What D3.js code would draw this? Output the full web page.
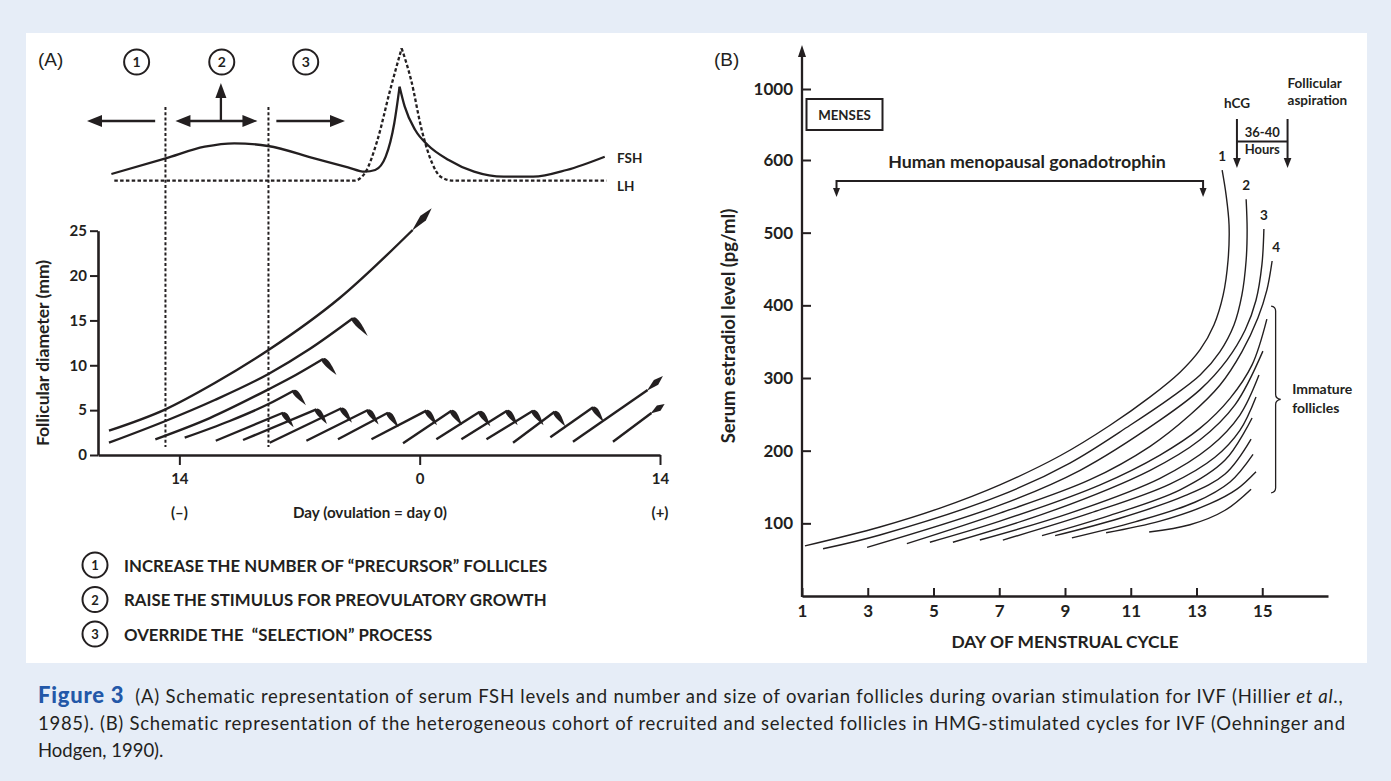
<!DOCTYPE html>
<html>
<head>
<meta charset="utf-8">
<script src="https://cdn.jsdelivr.net/npm/d3@7"></script>
<style>
  html, body { margin: 0; padding: 0; background: #e6edf7; }
  svg { display: block; }
  text { font-family: Lato, "Open Sans", sans-serif; fill: #231f20; white-space: pre; }
  .b { font-weight: 700; }
  .axA .domain, .axB .domain { stroke: #231f20; }
  .axA line, .axB line { stroke: #231f20; stroke-width: 2; }
  .axA text { font: 700 15px Lato, sans-serif; fill: #231f20; }
  .axB text { font: 700 17px Lato, sans-serif; fill: #231f20; }
  .cap { font-family: Lato, "Open Sans", sans-serif; font-size: 18.5px; fill: #333; }
</style>
</head>
<body>
<svg id="fig" width="1391" height="781"></svg>
<script>
// ---- Panel A: hormone levels, [day from ovulation, relative level]
const fshLevels = [[-17.96,1.6],[-14.8,3.17],[-12.52,4.33],[-10.8,4.67],[-8.84,4.4],[-6.14,3.17],[-4.18,2.27],
  [-3.2,1.83],[-2.59,2.0],[-1.98,3.33],[-1.48,6.67],[-1.17,10.33],[-0.87,8.33],[-0.26,6.0],[0.47,4.5],
  [1.69,3.0],[3.17,1.83],[4.89,1.33],[6.61,1.33],[8.56,2.0],[10.78,3.33]];
const lhLevels = [[-17.79,0.93],[-3.81,0.93],[-3.2,1.67],[-2.46,5.0],[-1.72,10.0],[-1.05,14.17],[-0.5,11.0],
  [0.12,6.0],[0.73,2.67],[1.22,1.33],[1.95,0.93],[10.89,0.93]];
const phaseBounds = [-14.81, -8.81];
const phaseDays = [-16.49, -11.53, -6.64];
const phaseNums = ["1", "2", "3"];

// ---- Panel A: follicles, [day, diameter mm]
const dominant = [[-18.10,2.71],[-14.81,5.09],[-11.94,8.02],[-8.81,11.70],[-4.66,17.50],[-0.41,25.08]];
const dominantTip = [0.70, 27.5];
const atreticCurves = [
  [[-18.10,1.37],[-14.81,3.79],[-11.94,6.13],[-8.81,9.03],[-6.41,11.81],[-3.89,15.24]],
  [[-15.40,1.75],[-12.23,4.12],[-8.81,7.32],[-7.22,8.92],[-5.63,10.70]],
  [[-13.69,1.93],[-11.07,3.79],[-8.81,5.68],[-7.34,7.17]]
];
// [startDay, startMm, endDay, endMm]
const atreticSmall = [
  [-11.88,1.59,-7.96,4.71],[-10.29,1.67,-6.02,5.09],[-8.74,1.37,-4.56,5.21],[-6.60,1.59,-3.01,5.02],
  [-4.76,1.75,-1.85,4.71],[-2.81,1.75,0.39,4.94],[-0.97,1.30,1.85,4.94],[0.97,1.75,3.50,4.83],
  [2.43,1.75,5.09,4.94],[3.89,1.75,6.60,4.94],[5.44,1.37,7.86,4.83],[7.61,1.97,10.10,5.32]
];
// [startDay, startMm, endDay, endMm, tipDay, tipMm]
const growingSmall = [[8.93,1.48,13.28,7.24,14.17,8.81],[11.26,1.48,13.50,4.68,14.27,5.68]];
const aYTicks = [0, 5, 10, 15, 20, 25];
const aXTicks = [-14, 0, 14];
const legendItems = ["INCREASE THE NUMBER OF \u201CPRECURSOR\u201D FOLLICLES",
  "RAISE THE STIMULUS FOR PREOVULATORY GROWTH",
  "OVERRIDE THE  \u201CSELECTION\u201D PROCESS"];

// ---- Panel B: estradiol, [day of cycle, pg/ml]
const selectedFollicles = [
  [[1.09,69],[3.37,95],[5.20,121],[7.02,153],[8.85,193],[10.37,235],[11.59,274],[12.50,308],[13.11,339],
   [13.53,373],[13.81,414],[13.96,462],[13.99,511],[13.90,552],[13.78,586]],
  [[1.64,65],[3.37,84],[7.02,138],[9.15,183],[10.98,235],[12.19,272],[13.11,304],[13.71,336],[14.14,373],
   [14.38,414],[14.51,462],[14.54,504],[14.51,546]],
  [[2.98,67],[7.02,125],[9.46,173],[11.89,242],[13.11,284],[13.93,325],[14.48,366],[14.81,407],[14.99,456],[15.05,505]],
  [[4.19,72],[7.02,114],[9.76,160],[11.59,206],[12.80,249],[13.71,290],[14.38,336],[14.87,383],[15.14,421],[15.30,461]]
];
const immatureFollicles = [
  [[4.89,74],[7.02,103],[10.07,153],[11.89,194],[13.11,231],[14.02,272],[14.69,318],[15.14,381]],
  [[5.59,74],[8.54,116],[11.59,173],[13.11,215],[14.17,263],[15.02,337]],
  [[6.41,77],[9.15,114],[11.89,162],[13.41,205],[14.32,249],[14.90,304]],
  [[7.11,77],[9.76,114],[12.19,154],[13.56,191],[14.32,228],[14.81,274]],
  [[8.30,83],[10.37,111],[12.50,146],[13.87,187],[14.69,245]],
  [[8.70,83],[10.67,107],[12.65,138],[13.87,168],[14.66,216]],
  [[9.21,80],[11.13,102],[12.95,129],[14.02,157],[14.72,195]],
  [[10.25,87],[11.89,103],[13.41,127],[14.23,147],[14.81,171]],
  [[11.56,88],[12.80,98],[13.87,118],[14.66,147]]
];
const bXTicks = [1, 3, 5, 7, 9, 11, 13, 15];
const bYTicks = [100, 200, 300, 400, 500, 600, 1000];
const hmgDays = [2.05, 13.2];
const hcgDay = 14.23, aspirationDay = 15.77;
const immatureRange = [142, 399];

const ink = "#231f20";
const svg = d3.select("#fig");
svg.append("rect").attr("x", 26).attr("y", 33).attr("width", 1341).attr("height", 630).attr("fill", "#fff");

function tri(g, x, y, ang, len, hw) {
  const bx = x - len * Math.cos(ang), by = y - len * Math.sin(ang);
  const px = -Math.sin(ang) * hw, py = Math.cos(ang) * hw;
  g.append("path").attr("d", `M${x},${y}L${bx + px},${by + py}L${bx - px},${by - py}Z`).attr("fill", ink);
}
function flag(g, x, y, len, rot) {
  g.append("path")
    .attr("d", `M0,-1.4C2.5,-4 ${len * 0.42},-3.2 ${len},0C${len * 0.45},2.6 2,3.6 -0.8,1.6Z`)
    .attr("transform", `translate(${x},${y}) rotate(${rot})`).attr("fill", ink);
}
function lozenge(g, x0, y0, x1, y1, hw) {
  const L = Math.hypot(x1 - x0, y1 - y0), a = Math.atan2(y1 - y0, x1 - x0) * 180 / Math.PI;
  g.append("path").attr("d", `M-1,0L${0.55 * L},${-hw}L${L},0L${0.55 * L},${hw}Z`)
    .attr("transform", `translate(${x0},${y0}) rotate(${a})`).attr("fill", ink);
}

// =================== Panel A ===================
const xA = d3.scaleLinear().domain([-18.74, 14]).range([98, 660]);
const yA = d3.scaleLinear().domain([0, 25]).range([455, 230.7]);
const yH = d3.scaleLinear().domain([0, 10]).range([190, 90]);
const gA = svg.append("g");

gA.append("text").attr("x", 38).attr("y", 66).style("font", "400 19px 'Liberation Sans', Arial, sans-serif").text("(A)");

// phase circles
phaseDays.forEach((d, i) => {
  gA.append("circle").attr("cx", xA(d)).attr("cy", 62).attr("r", 12.5)
    .attr("fill", "none").attr("stroke", ink).attr("stroke-width", 2);
  gA.append("text").attr("class", "b").attr("x", xA(d)).attr("y", 67).attr("text-anchor", "middle")
    .style("font-size", "14px").text(phaseNums[i]);
});

// phase arrows
const arrY = 121;
const arrows = gA.append("g").attr("stroke", ink).attr("stroke-width", 2.3);
arrows.append("line").attr("x1", xA(-15.41)).attr("x2", xA(-19.38) + 10).attr("y1", arrY).attr("y2", arrY);
tri(gA, xA(-19.38), arrY, Math.PI, 15, 6);
arrows.append("line").attr("x1", xA(-14.23) + 10).attr("x2", xA(-9.45) - 10).attr("y1", arrY).attr("y2", arrY);
tri(gA, xA(-14.23), arrY, Math.PI, 15, 6);
tri(gA, xA(-9.45), arrY, 0, 15, 6);
arrows.append("line").attr("x1", xA(-11.58)).attr("x2", xA(-11.58)).attr("y1", arrY).attr("y2", 94);
tri(gA, xA(-11.58), 83, -Math.PI / 2, 15, 5.5);
arrows.append("line").attr("x1", xA(-8.35)).attr("x2", xA(-4.35) - 10).attr("y1", arrY).attr("y2", arrY);
tri(gA, xA(-4.35), arrY, 0, 15, 6);

// phase boundaries
phaseBounds.forEach(d => {
  gA.append("line").attr("x1", xA(d)).attr("x2", xA(d)).attr("y1", 107).attr("y2", yA(0.9))
    .attr("stroke", ink).attr("stroke-width", 2).attr("stroke-dasharray", "3,2.2");
});

// hormone curves, drawn as rise + fall so the peak stays sharp
const hLine = d3.line().x(d => xA(d[0])).y(d => yH(d[1])).curve(d3.curveMonotoneX);
function drawHormone(data, dash) {
  const pk = d3.maxIndex(data, d => d[1]);
  [data.slice(0, pk + 1), data.slice(pk)].forEach(part => {
    gA.append("path").attr("d", hLine(part)).attr("fill", "none").attr("stroke", ink)
      .attr("stroke-width", 2.3).attr("stroke-dasharray", dash);
  });
}
drawHormone(lhLevels, "3.5,2.3");
drawHormone(fshLevels, null);
gA.append("text").attr("class", "b").attr("x", 617).attr("y", yH(fshLevels[fshLevels.length - 1][1]) + 6)
  .style("font-size", "13.5px").text("FSH");
gA.append("text").attr("class", "b").attr("x", 617).attr("y", yH(lhLevels[lhLevels.length - 1][1]) + 10)
  .style("font-size", "13.5px").text("LH");

// axes
gA.append("g").attr("class", "axA").attr("transform", `translate(${xA.range()[0]},0)`)
  .call(d3.axisLeft(yA).tickValues(aYTicks).tickSize(8).tickPadding(3).tickSizeOuter(0))
  .call(g => g.select(".domain").attr("stroke-width", 2.6));
gA.append("g").attr("class", "axA").attr("transform", `translate(0,${yA(0)})`)
  .call(d3.axisBottom(xA).tickValues(aXTicks).tickFormat(d => Math.abs(d)).tickSize(10).tickPadding(8).tickSizeOuter(0))
  .call(g => g.select(".domain").attr("stroke-width", 2.6));
gA.append("text").attr("class", "b").attr("x", xA(-14)).attr("y", 518).attr("text-anchor", "middle").style("font-size", "15px").text("(\u2013)");
gA.append("text").attr("class", "b").attr("x", xA(14)).attr("y", 518).attr("text-anchor", "middle").style("font-size", "15px").text("(+)");
gA.append("text").attr("class", "b").attr("x", 370).attr("y", 518).attr("text-anchor", "middle").style("font-size", "15.2px").text("Day (ovulation = day 0)");
gA.append("text").attr("class", "b").attr("transform", "translate(49,353) rotate(-90)").attr("text-anchor", "middle")
  .style("font-size", "17.5px").text("Follicular diameter (mm)");

// follicles
const fLine = d3.line().x(d => xA(d[0])).y(d => yA(d[1])).curve(d3.curveMonotoneX);
const fol = gA.append("g");
const lastOf = a => a[a.length - 1];
fol.append("path").attr("d", fLine(dominant)).attr("fill", "none").attr("stroke", ink).attr("stroke-width", 2.4);
lozenge(fol, xA(lastOf(dominant)[0]), yA(lastOf(dominant)[1]), xA(dominantTip[0]), yA(dominantTip[1]), 3.6);
const flagLen = [23, 21, 19];
atreticCurves.forEach((c, i) => {
  fol.append("path").attr("d", fLine(c)).attr("fill", "none").attr("stroke", ink).attr("stroke-width", 2.4);
  flag(fol, xA(lastOf(c)[0]), yA(lastOf(c)[1]), flagLen[i], 50);
});
atreticSmall.forEach(s => {
  fol.append("line").attr("x1", xA(s[0])).attr("y1", yA(s[1])).attr("x2", xA(s[2])).attr("y2", yA(s[3]))
    .attr("stroke", ink).attr("stroke-width", 2.4);
  flag(fol, xA(s[2]), yA(s[3]), 18, 54);
});
growingSmall.forEach(s => {
  fol.append("line").attr("x1", xA(s[0])).attr("y1", yA(s[1])).attr("x2", xA(s[2])).attr("y2", yA(s[3]))
    .attr("stroke", ink).attr("stroke-width", 2.4);
  lozenge(fol, xA(s[2]), yA(s[3]), xA(s[4]), yA(s[5]), 3.2);
});

// legend
legendItems.forEach((t, i) => {
  const cy = 565 + i * 34.5;
  gA.append("circle").attr("cx", 95).attr("cy", cy).attr("r", 12.5).attr("fill", "none").attr("stroke", ink).attr("stroke-width", 2);
  gA.append("text").attr("class", "b").attr("x", 95).attr("y", cy + 5).attr("text-anchor", "middle").style("font-size", "13px").text(i + 1);
  gA.append("text").attr("class", "b").attr("x", 124).attr("y", cy + 6.5).style("font-size", "16.8px").text(t);
});

// =================== Panel B ===================
const xB = d3.scaleLinear().domain([1, 17]).range([802, 1328]);
const yB = d3.scaleLinear().domain([0, 600, 1000]).range([596, 160, 89]);
const gB = svg.append("g");

gB.append("text").attr("x", 714).attr("y", 66).style("font", "400 19px 'Liberation Sans', Arial, sans-serif").text("(B)");

gB.append("g").attr("class", "axB").attr("transform", `translate(0,${yB(0)})`)
  .call(d3.axisBottom(xB).tickValues(bXTicks).tickSize(-8).tickPadding(9).tickSizeOuter(0))
  .call(g => g.select(".domain").attr("stroke-width", 2.3));
gB.append("g").attr("class", "axB").attr("transform", `translate(${xB(1)},0)`)
  .call(d3.axisLeft(yB).tickValues(bYTicks).tickFormat(d3.format("d")).tickSize(-9).tickPadding(9))
  .call(g => g.select(".domain").remove());
gB.append("line").attr("x1", xB(1)).attr("x2", xB(1)).attr("y1", yB(0) + 1).attr("y2", 55)
  .attr("stroke", ink).attr("stroke-width", 2.3);
tri(gB, xB(1), 45, -Math.PI / 2, 12, 4);

gB.append("text").attr("class", "b").attr("x", 1065).attr("y", 648).attr("text-anchor", "middle")
  .style("font-size", "17.4px").text("DAY OF MENSTRUAL CYCLE");
gB.append("text").attr("class", "b").attr("transform", "translate(735,326) rotate(-90)").attr("text-anchor", "middle")
  .style("font-size", "18.5px").text("Serum estradiol level (pg/ml)");

// menses box
gB.append("rect").attr("x", 806.5).attr("y", 99).attr("width", 76).attr("height", 31)
  .attr("fill", "none").attr("stroke", ink).attr("stroke-width", 2);
gB.append("text").attr("class", "b").attr("x", 844.5).attr("y", 120).attr("text-anchor", "middle").style("font-size", "13.3px").text("MENSES");

// HMG bracket
const hmgY = 181;
gB.append("path").attr("d", `M${xB(hmgDays[0])},${hmgY + 9}V${hmgY}H${xB(hmgDays[1])}V${hmgY + 9}`)
  .attr("fill", "none").attr("stroke", ink).attr("stroke-width", 2);
hmgDays.forEach(d => tri(gB, xB(d), hmgY + 16, Math.PI / 2, 9, 3.5));
gB.append("text").attr("class", "b").attr("x", 1027).attr("y", 168).attr("text-anchor", "middle")
  .style("font-size", "17.8px").text("Human menopausal gonadotrophin");

// hCG / aspiration
[hcgDay, aspirationDay].forEach(d => {
  gB.append("line").attr("x1", xB(d)).attr("x2", xB(d)).attr("y1", 119).attr("y2", 160).attr("stroke", ink).attr("stroke-width", 2);
  tri(gB, xB(d), 168, Math.PI / 2, 10, 3.8);
});
gB.append("line").attr("x1", xB(hcgDay)).attr("x2", xB(aspirationDay)).attr("y1", 141.5).attr("y2", 141.5)
  .attr("stroke", ink).attr("stroke-width", 2);
const midH = (xB(hcgDay) + xB(aspirationDay)) / 2;
gB.append("text").attr("class", "b").attr("x", midH).attr("y", 137).attr("text-anchor", "middle").style("font-size", "13px").text("36-40");
gB.append("text").attr("class", "b").attr("x", midH).attr("y", 153.5).attr("text-anchor", "middle").style("font-size", "13px").text("Hours");
gB.append("text").attr("class", "b").attr("x", xB(hcgDay)).attr("y", 108).attr("text-anchor", "middle").style("font-size", "13.5px").text("hCG");
gB.append("text").attr("class", "b").attr("x", xB(aspirationDay)).attr("y", 88).style("font-size", "13.5px").text("Follicular");
gB.append("text").attr("class", "b").attr("x", xB(aspirationDay)).attr("y", 105).style("font-size", "13.5px").text("aspiration");

// estradiol curves
const eLine = d3.line().x(d => xB(d[0])).y(d => yB(d[1])).curve(d3.curveCatmullRom.alpha(0.5));
selectedFollicles.concat(immatureFollicles).forEach(c => {
  gB.append("path").attr("d", eLine(c)).attr("fill", "none").attr("stroke", ink).attr("stroke-width", 1.4);
});
selectedFollicles.forEach((c, i) => {
  const t = lastOf(c);
  gB.append("text").attr("class", "b").attr("x", xB(t[0]) + (i === 3 ? 4 : 0)).attr("y", yB(t[1]) - 9)
    .attr("text-anchor", "middle").style("font-size", "13.5px").text(i + 1);
});

// brace for immature follicles
const bx = xB(15.27), yTop = yB(immatureRange[1]), yBot = yB(immatureRange[0]), yMid = (yTop + yBot) / 2;
gB.append("path")
  .attr("d", `M${bx},${yTop}q4.5,0.5 4.5,5V${yMid - 5}q0,4 5,5q-5,1 -5,5V${yBot - 5}q0,4.5 -4.5,5`)
  .attr("fill", "none").attr("stroke", ink).attr("stroke-width", 1.3);
gB.append("text").attr("class", "b").attr("x", bx + 21).attr("y", yMid - 5).style("font-size", "14px").text("Immature");
gB.append("text").attr("class", "b").attr("x", bx + 21).attr("y", yMid + 14).style("font-size", "14px").text("follicles");

// =================== Caption ===================
const cap = svg.append("g").attr("class", "cap");
const l1 = cap.append("text").attr("x", 38).attr("y", 703);
l1.append("tspan").style("font-weight", 900).style("font-size", "22px").style("fill", "#2358a8").text("Figure 3");
l1.append("tspan").text("  (A) Schematic representation of serum FSH levels and number and size of ovarian follicles during ovarian stimulation for IVF (Hillier ");
l1.append("tspan").style("font-style", "italic").text("et al");
l1.append("tspan").text(".,");
const l2 = cap.append("text").attr("x", 38).attr("y", 730)
  .text("1985). (B) Schematic representation of the heterogeneous cohort of recruited and selected follicles in HMG-stimulated cycles for IVF (Oehninger and");
cap.append("text").attr("x", 38).attr("y", 757).text("Hodgen, 1990).");
// stretch the two full caption lines to the width of the printed column
[[l1, 1306], [l2, 1308]].forEach(([t, w]) => {
  const node = t.node(), n = node.textContent.length;
  const extra = (w - node.getComputedTextLength()) / (n - 1);
  t.style("letter-spacing", `${extra}px`);
});
</script>
</body>
</html>
